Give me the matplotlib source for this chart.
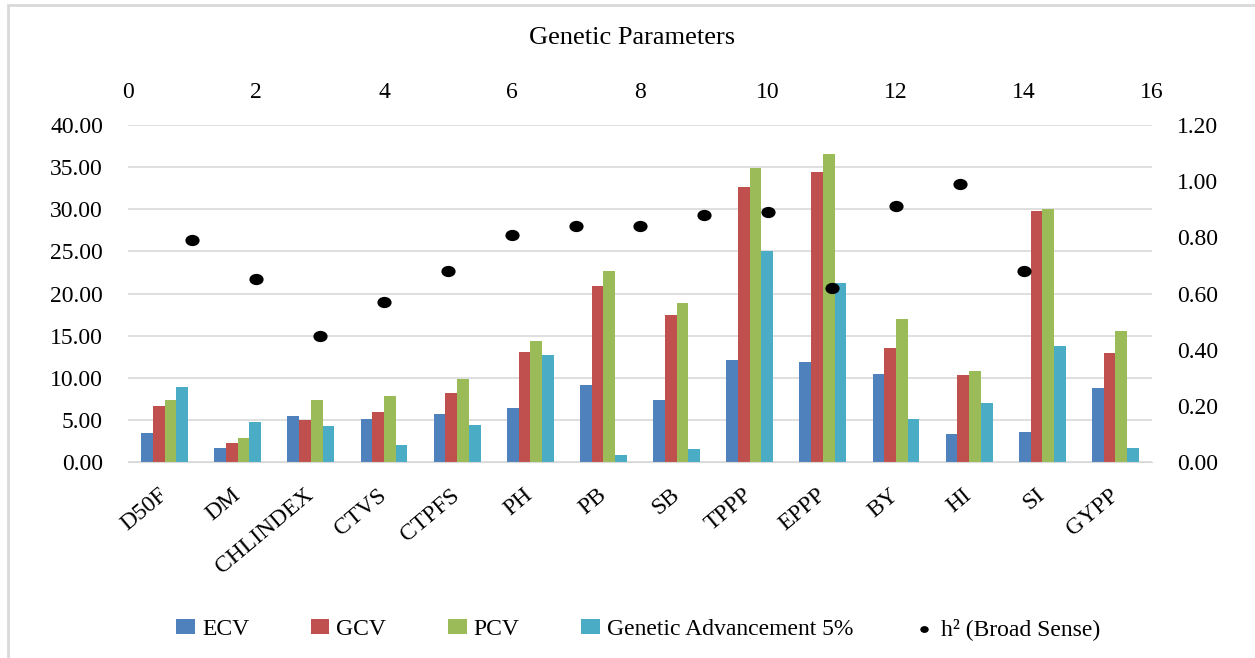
import numpy as np
import matplotlib
matplotlib.use('Agg')
import matplotlib.pyplot as plt
from matplotlib.patches import Rectangle
from matplotlib.path import Path
from matplotlib.transforms import Affine2D

matplotlib.rcParams['font.family'] = 'Liberation Serif'

traits = ['D50F', 'DM', 'CHLINDEX', 'CTVS', 'CTPFS', 'PH', 'PB', 'SB',
          'TPPP', 'EPPP', 'BY', 'HI', 'SI', 'GYPP']
ecv = [3.5, 1.7, 5.5, 5.1, 5.7, 6.4, 9.1, 7.4, 12.1, 11.9, 10.4, 3.3, 3.6, 8.8]
gcv = [6.6, 2.3, 5.0, 5.9, 8.2, 13.0, 20.9, 17.5, 32.7, 34.4, 13.5, 10.3, 29.8, 12.9]
pcv = [7.4, 2.9, 7.3, 7.8, 9.9, 14.4, 22.7, 18.9, 34.9, 36.5, 17.0, 10.8, 30.0, 15.5]
ga5 = [8.9, 4.8, 4.3, 2.0, 4.4, 12.7, 0.8, 1.6, 25.0, 21.3, 5.1, 7.0, 13.8, 1.7]
h2 = [0.79, 0.65, 0.45, 0.57, 0.68, 0.81, 0.84, 0.84, 0.88, 0.89, 0.62, 0.91, 0.99, 0.68]
h2_x = list(range(1, 15))

colors = ['#4F81BD', '#C0504D', '#9BBB59', '#4BACC6']
names = ['ECV', 'GCV', 'PCV', 'Genetic Advancement 5%']

# dots in the original are slightly wider than tall
ellipse = Path.unit_circle().transformed(Affine2D().scale(1.3, 1.0))

fig = plt.figure(figsize=(12.55, 6.58), dpi=100)
fig.patches.append(Rectangle((8/1255, -0.1), 1.2, 1 - 5/658 + 0.1, transform=fig.transFigure,
                             fill=False, edgecolor='#d9d9d9', linewidth=2))

ax1 = fig.add_axes([128/1255, 1 - 462/658, 1024/1255, 337/658])
x = np.arange(len(traits))
w = 0.16
for i, (vals, c, n) in enumerate(zip([ecv, gcv, pcv, ga5], colors, names)):
    ax1.bar(x + (i - 1.5) * w, vals, w, color=c, label=n, zorder=2)

ax1.set_xlim(-0.5, len(traits) - 0.5)
ax1.set_ylim(0, 40)
ax1.set_yticks(np.arange(0, 41, 5))
ax1.set_yticklabels(['%.2f' % v for v in np.arange(0, 41, 5)], fontsize=17)
ax1.set_xticks(x)
ax1.set_xticklabels(traits, rotation=40, ha='right', va='center', rotation_mode='anchor', fontsize=17)
ax1.tick_params(axis='x', length=0, pad=22)
ax1.tick_params(axis='y', length=0, pad=18)
ax1.grid(axis='y', color='#d9d9d9', linewidth=1.2, zorder=0)
for s in ['top', 'left', 'right']:
    ax1.spines[s].set_visible(False)
ax1.spines['bottom'].set_color('#d9d9d9')
ax1.set_axisbelow(True)

ax3 = ax1.twinx()
ax2 = ax3.twiny()
ax2.scatter(h2_x, h2, s=85, color='black', marker=ellipse, zorder=3, label='h\u00b2 (Broad Sense)')
ax2.set_xlim(0, 16)
ax2.set_ylim(0, 1.2)
ax2.set_xticks(range(0, 17, 2))
ax2.tick_params(axis='x', length=0, labelsize=17, pad=16)
for s in ax2.spines.values():
    s.set_visible(False)

ax3.set_ylim(0, 1.2)
ax3.set_yticks(np.arange(0, 1.21, 0.2))
ax3.set_yticklabels(['%.2f' % v for v in np.arange(0, 1.21, 0.2)], fontsize=17)
ax3.tick_params(axis='y', length=0, pad=18)
for s in ax3.spines.values():
    s.set_visible(False)

fig.text(632/1255, 1 - 38/658, 'Genetic Parameters', ha='center', va='center', fontsize=19)

h1, l1 = ax1.get_legend_handles_labels()
h2h, l2 = ax2.get_legend_handles_labels()
fig.legend(h1 + h2h, l1 + l2, loc='center', bbox_to_anchor=(638/1255, 1 - 629/658), ncol=5,
           frameon=False, fontsize=17, handlelength=0.8, handleheight=0.6, handletextpad=0.3,
           columnspacing=2.6, markerscale=0.55)

plt.savefig('out.png', dpi=100)
